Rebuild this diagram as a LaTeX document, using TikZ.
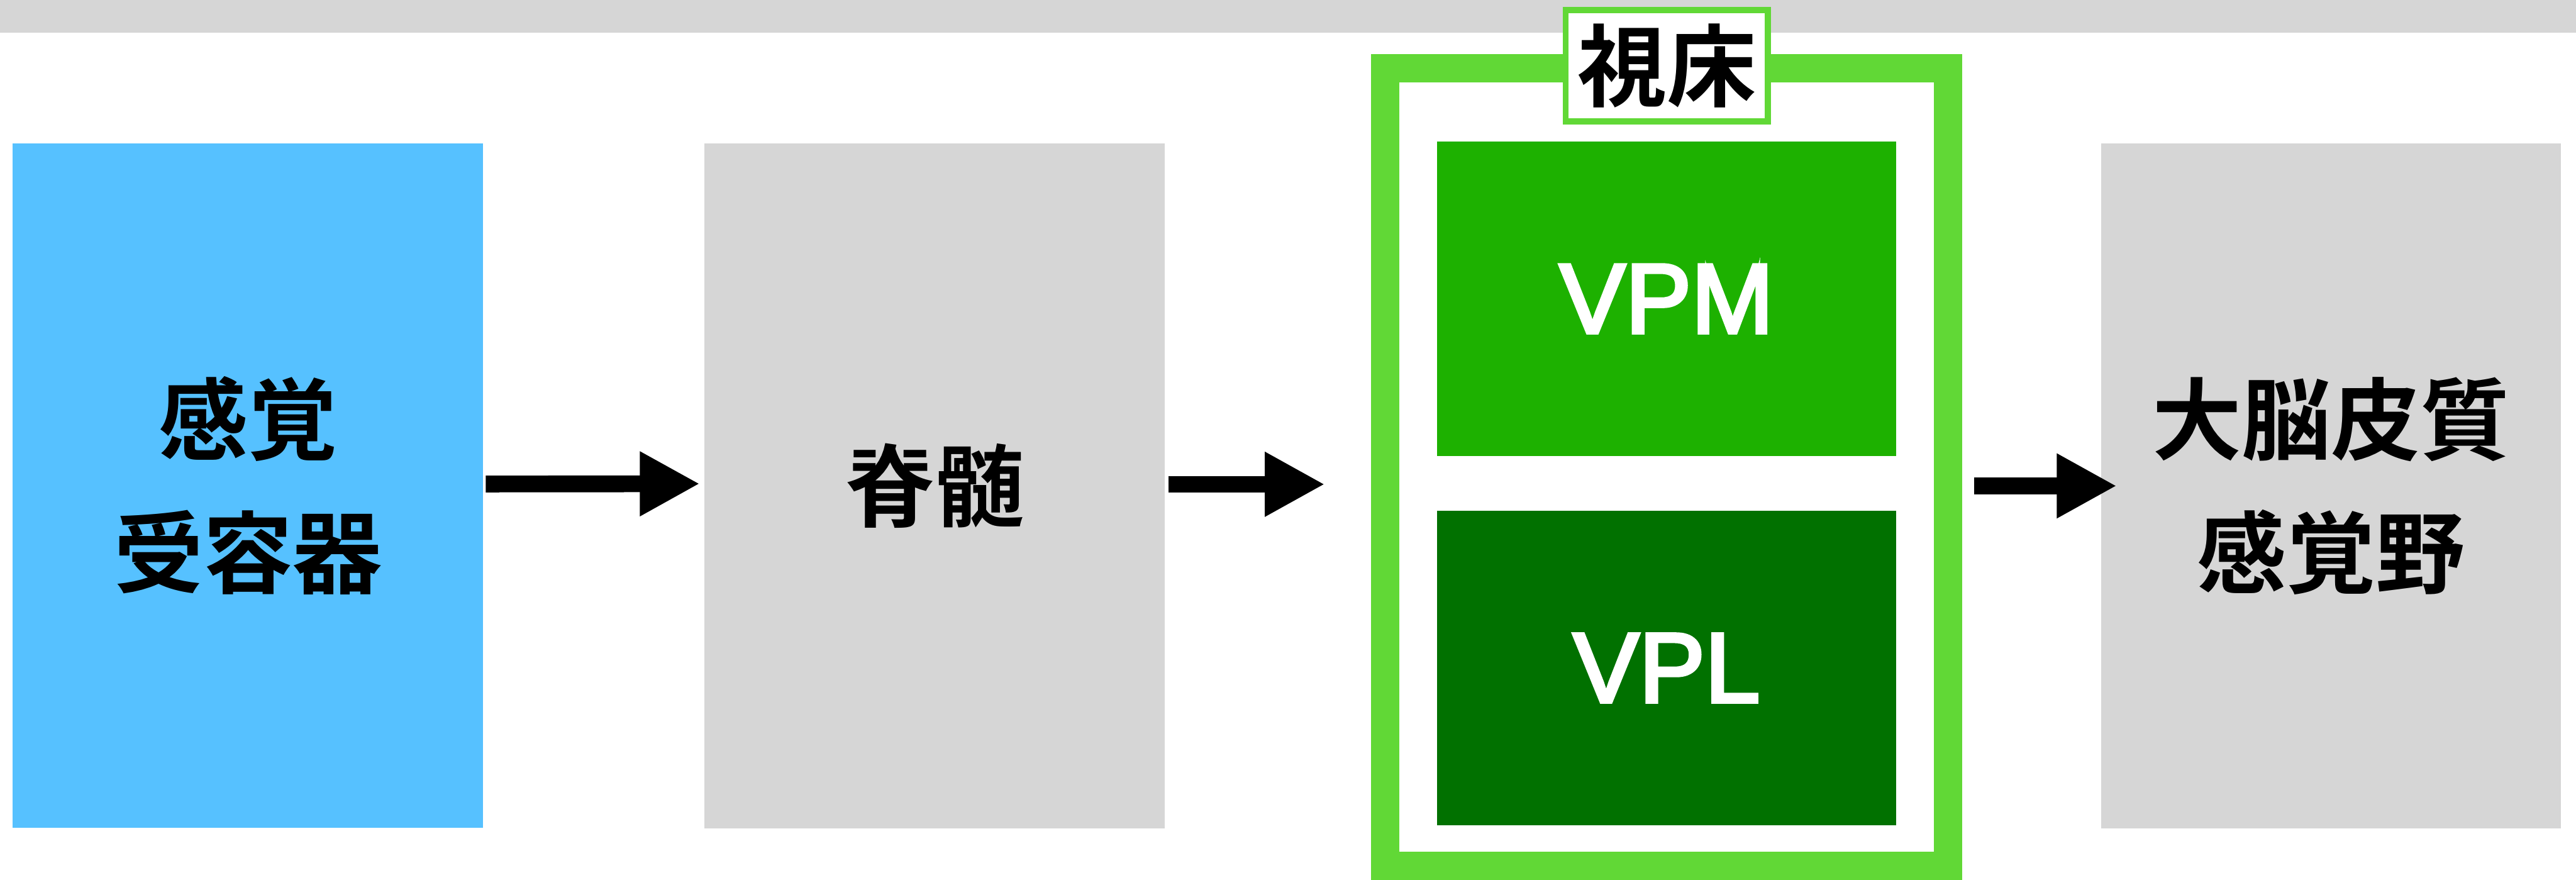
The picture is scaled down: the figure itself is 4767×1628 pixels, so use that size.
\documentclass[tikz,border=0pt]{standalone}
\usepackage{fontspec}
\usetikzlibrary{arrows.meta}
\newfontfamily\cjkfont{Noto Sans CJK JP Bold}
\newfontfamily\latinfont[FakeBold=3.5]{Liberation Sans}
\definecolor{cblue}{HTML}{56C1FF}
\definecolor{cgray}{HTML}{D6D6D6}
\definecolor{clime}{HTML}{61D836}
\definecolor{cgreen}{HTML}{1DB100}
\definecolor{cdark}{HTML}{017100}
\tikzset{
  box/.style={rectangle, inner sep=0pt, draw=none, align=center,
    font={\cjkfont\fontsize{47}{70}\selectfont}},
  subbox/.style={rectangle, inner sep=0pt, draw=none, align=center, text=white,
    minimum width=8.50cm, minimum height=5.82cm,
    font={\latinfont\fontsize{52}{60}\selectfont}},
  bigarrow/.style={draw=black, line width=0.31cm,
    -{Triangle[length=1.11cm,width=1.12cm]}},
}
\begin{document}
\begin{tikzpicture}[x=0.01cm,y=-0.01cm]
\useasboundingbox (0,0) rectangle (4767,1628);
\fill[cgray] (0,0) rectangle (4767,61);
\node[box, fill=cblue, minimum width=8.70cm, minimum height=12.65cm] (recep) at (459,898.5) {感覚\\受容器};
\node[box, fill=cgray, minimum width=8.51cm, minimum height=12.66cm] (cord) at (1729.5,899) {脊髄};
\node[rectangle, draw=clime, line width=0.53cm, fill=white, minimum width=10.41cm, minimum height=14.75cm, inner sep=0pt] (thal) at (3084,864) {};
\node[subbox, fill=cgreen] (vpm) at (3084,553) {VPM};
\node[subbox, fill=cdark] (vpl) at (3084,1236) {VPL};
\node[box, draw=clime, fill=white, line width=0.11cm, minimum width=3.74cm, minimum height=2.06cm] (label) at (3084.5,121.5) {視床};
\node[box, fill=cgray, minimum width=8.51cm, minimum height=12.66cm] (cortex) at (4313.5,899) {大脳皮質\\感覚野};
\draw[bigarrow] ([xshift=0.04cm,yshift=0.03cm]recep.east) -- ([xshift=-0.08cm,yshift=0.04cm]cord.west);
\draw[bigarrow] ([xshift=0.06cm,yshift=0.03cm]cord.east) -- ([xshift=-0.85cm,yshift=0.03cm]thal.west |- cord.east);
\draw[bigarrow] ([xshift=0.22cm]thal.east |- cortex.west) -- ([xshift=0.30cm]cortex.west);
\end{tikzpicture}
\end{document}
